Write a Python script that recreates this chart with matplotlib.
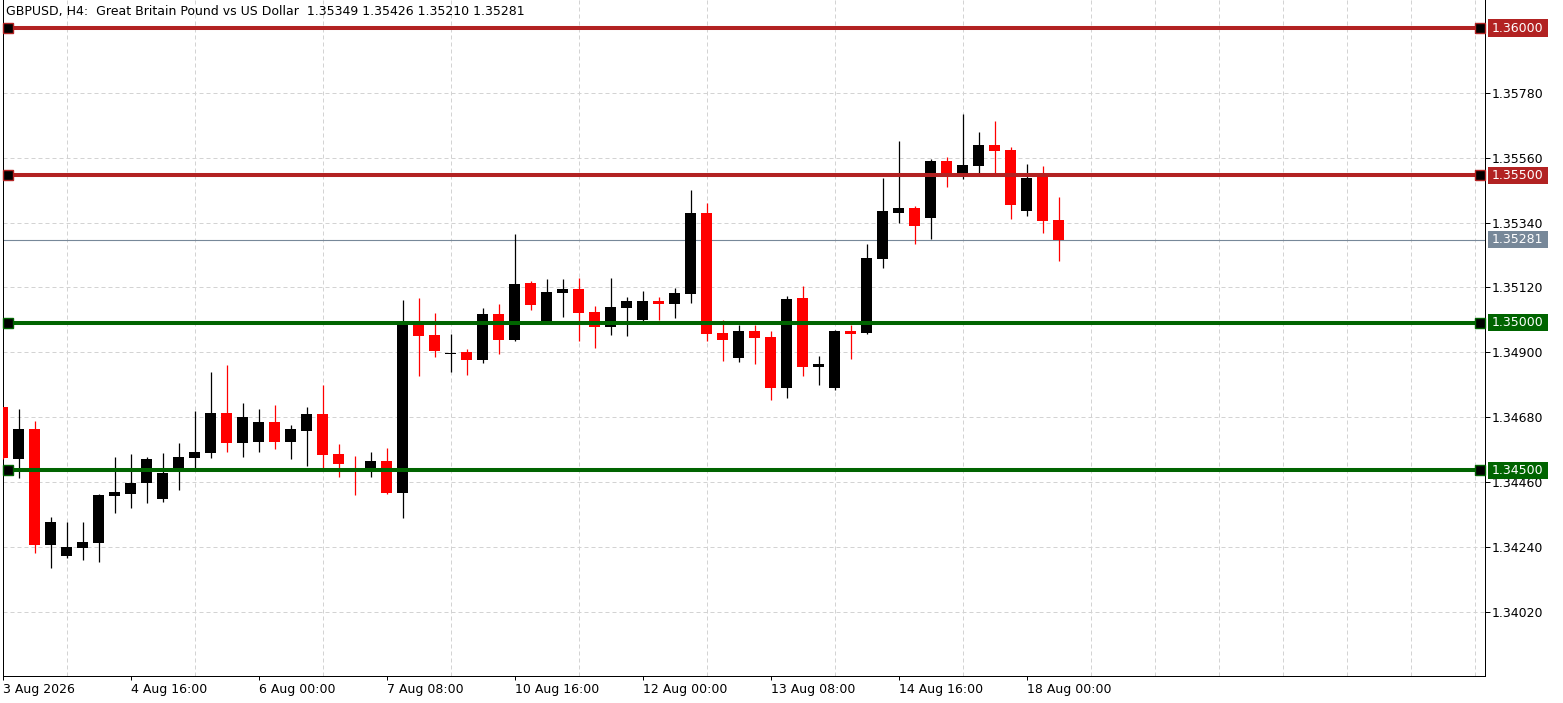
import matplotlib
matplotlib.use('Agg')
import matplotlib.pyplot as plt
from matplotlib.patches import Rectangle
from matplotlib.transforms import blended_transform_factory
import numpy as np

plt.rcParams['font.family'] = ['DejaVu Sans']

opens = [1.34715, 1.34538, 1.34640, 1.34246, 1.34208, 1.34235, 1.34252, 1.34412, 1.34419, 1.34456,
         1.34402, 1.34504, 1.34541, 1.34558, 1.34694, 1.34592, 1.34596, 1.34664, 1.34596, 1.34633,
         1.34691, 1.34555, 1.34507, 1.34501, 1.34531, 1.34422, 1.35000, 1.34960, 1.34895, 1.34902,
         1.34875, 1.35031, 1.34943, 1.35136, 1.35004, 1.35102, 1.35113, 1.35038, 1.34987, 1.35051,
         1.35011, 1.35075, 1.35065, 1.35099, 1.35371, 1.34966, 1.34881, 1.34973, 1.34953, 1.34779,
         1.35085, 1.34851, 1.34779, 1.34973, 1.34966, 1.35218, 1.35374, 1.35391, 1.35354, 1.35548,
         1.35493, 1.35531, 1.35602, 1.35585, 1.35378, 1.35497, 1.35349]
highs = [1.34715, 1.34708, 1.34667, 1.34341, 1.34324, 1.34324, 1.34419, 1.34545, 1.34555, 1.34545,
         1.34558, 1.34592, 1.34701, 1.34834, 1.34858, 1.34728, 1.34708, 1.34722, 1.34654, 1.34715,
         1.34790, 1.34589, 1.34548, 1.34562, 1.34575, 1.35079, 1.35085, 1.35034, 1.34963, 1.34912,
         1.35051, 1.35065, 1.35300, 1.35143, 1.35150, 1.35150, 1.35153, 1.35058, 1.35153, 1.35089,
         1.35109, 1.35089, 1.35119, 1.35449, 1.35408, 1.35011, 1.34994, 1.34994, 1.34973, 1.35092,
         1.35126, 1.34888, 1.34977, 1.34994, 1.35266, 1.35490, 1.35616, 1.35395, 1.35555, 1.35561,
         1.35708, 1.35646, 1.35684, 1.35595, 1.35538, 1.35531, 1.35426]
lows = [1.34538, 1.34473, 1.34218, 1.34167, 1.34201, 1.34195, 1.34188, 1.34354, 1.34371, 1.34388,
        1.34392, 1.34433, 1.34504, 1.34541, 1.34562, 1.34545, 1.34562, 1.34572, 1.34538, 1.34514,
        1.34504, 1.34477, 1.34416, 1.34477, 1.34419, 1.34337, 1.34820, 1.34885, 1.34834, 1.34824,
        1.34864, 1.34895, 1.34940, 1.35045, 1.35000, 1.35021, 1.34939, 1.34915, 1.34960, 1.34956,
        1.35007, 1.35011, 1.35017, 1.35068, 1.34939, 1.34871, 1.34868, 1.34861, 1.34739, 1.34745,
        1.34820, 1.34790, 1.34773, 1.34878, 1.34963, 1.35187, 1.35337, 1.35266, 1.35283, 1.35459,
        1.35487, 1.35507, 1.35504, 1.35351, 1.35361, 1.35303, 1.35210]
closes = [1.34541, 1.34640, 1.34246, 1.34324, 1.34239, 1.34256, 1.34416, 1.34426, 1.34456, 1.34538,
          1.34490, 1.34545, 1.34562, 1.34694, 1.34592, 1.34681, 1.34664, 1.34596, 1.34640, 1.34691,
          1.34552, 1.34521, 1.34497, 1.34531, 1.34422, 1.35004, 1.34956, 1.34905, 1.34898, 1.34875,
          1.35031, 1.34943, 1.35133, 1.35062, 1.35106, 1.35113, 1.35034, 1.34987, 1.35055, 1.35075,
          1.35075, 1.35065, 1.35102, 1.35374, 1.34963, 1.34943, 1.34973, 1.34949, 1.34779, 1.35082,
          1.34851, 1.34861, 1.34973, 1.34963, 1.35221, 1.35378, 1.35391, 1.35330, 1.35548, 1.35500,
          1.35534, 1.35602, 1.35582, 1.35398, 1.35490, 1.35344, 1.35281]

time_labels = ["3 Aug 2026", "4 Aug 16:00", "6 Aug 00:00", "7 Aug 08:00", "10 Aug 16:00",
               "12 Aug 00:00", "13 Aug 08:00", "14 Aug 16:00", "18 Aug 00:00"]
label_bars = [0, 8, 16, 24, 32, 40, 48, 56, 64]
price_ticks = [1.34020, 1.34240, 1.34460, 1.34680, 1.34900, 1.35120, 1.35340, 1.35560, 1.35780]
resistance_levels = [1.36000, 1.35500]
support_levels = [1.35000, 1.34500]
current_price = 1.35281
title = "GBPUSD, H4:  Great Britain Pound vs US Dollar  1.35349 1.35426 1.35210 1.35281"

W, H = 1563, 703
fig = plt.figure(figsize=(W / 100, H / 100), dpi=100)
ax = fig.add_axes([2.7 / W, (H - 676) / H, (1485.3 - 2.7) / W, 676 / H])

o = np.array(opens); h = np.array(highs); l = np.array(lows); c = np.array(closes)
x = np.arange(len(o))
cols = np.where(c >= o, 'black', '#FF0000')

ax.vlines(x, l, h, colors=cols, linewidth=0.9, zorder=3)
ax.bar(x, np.maximum(np.abs(c - o), 0.00002), bottom=np.minimum(o, c), width=11 / 16,
       color=cols, linewidth=0, zorder=3.1)

ax.axhline(current_price, color='#778899', linewidth=0.8, zorder=2)

btrans = blended_transform_factory(ax.transAxes, ax.transData)
ftrans = blended_transform_factory(fig.transFigure, ax.transData)
box_h = 17 * 3.392e-5

def level(v, color):
    ax.axhline(v, color=color, linewidth=2.9, zorder=4)
    ax.plot([0.0036, 0.9961], [v, v], transform=btrans, marker='s', markersize=7.2,
            markerfacecolor='black', markeredgecolor=color, markeredgewidth=1.0,
            linestyle='none', clip_on=False, zorder=5)

def label_box(v, color):
    ax.add_patch(Rectangle((1488 / W, v - box_h / 2), 60 / W, box_h, transform=ftrans,
                           facecolor=color, edgecolor='none', clip_on=False, zorder=6))
    ax.text(1492 / W, v, f"{v:.5f}", transform=ftrans, color='white', fontsize=9,
            va='center', ha='left', zorder=7, clip_on=False)

for v in resistance_levels:
    level(v, '#B22222')
    label_box(v, '#B22222')
for v in support_levels:
    level(v, '#006400')
    label_box(v, '#006400')
label_box(current_price, '#778899')

ax.set_xlim((2.7 - 2.5) / 16, (1485.3 - 2.5) / 16)
ax.set_ylim(1.36 - 648 * 3.392e-5, 1.36 + 28 * 3.392e-5)

ax.yaxis.tick_right()
ax.set_yticks(price_ticks)
ax.set_yticklabels([f"{t:.5f}" for t in price_ticks])
ax.set_xticks(label_bars)
ax.set_xticklabels(time_labels, ha='left')
ax.set_xticks(np.arange(0, 93, 4), minor=True)

ax.tick_params(axis='y', which='major', length=3.6, width=0.72, pad=1.2, labelsize=9, colors='black')
ax.tick_params(axis='x', which='major', length=2.9, width=0.72, pad=2.2, labelsize=9, colors='black')
ax.tick_params(axis='both', which='minor', length=0)

grid_kw = dict(color='#D3D3D3', linestyle=(0, (4, 3)), linewidth=0.72)
ax.grid(axis='y', which='major', **grid_kw)
ax.grid(axis='x', which='minor', **grid_kw)
ax.grid(axis='x', which='major', visible=False)
ax.set_axisbelow(True)

for s in ax.spines.values():
    s.set_linewidth(0.72)
    s.set_color('black')
ax.spines['top'].set_visible(False)

fig.text(6 / W, 1 - 12 / H, title, fontsize=9, va='center', ha='left', color='black')

fig.savefig('out.png', dpi=100, facecolor='white')
